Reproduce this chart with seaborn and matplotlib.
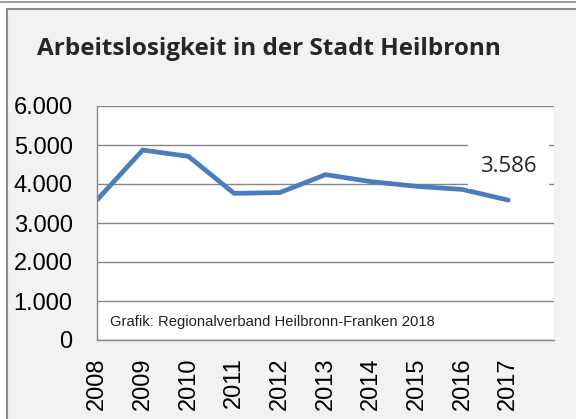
import pandas as pd
import matplotlib
matplotlib.use("Agg")
import matplotlib.pyplot as plt
import seaborn as sns
from matplotlib.patches import Rectangle
from matplotlib.ticker import FuncFormatter

# data
years = ["2008", "2009", "2010", "2011", "2012", "2013", "2014", "2015", "2016", "2017"]
arbeitslose = [3590, 4870, 4710, 3760, 3780, 4240, 4060, 3940, 3860, 3586]

df = pd.DataFrame({"pos": range(len(years)), "wert": arbeitslose})

sns.set_style("white")
plt.rcParams["font.family"] = ["Liberation Sans", "DejaVu Sans"]

fig = plt.figure(figsize=(5.76, 4.19), dpi=100)
fig.patch.set_facecolor("white")

# panel frame like the spreadsheet chart area
fig.patches.append(Rectangle((0, 1 - 3 / 419), 1, 2 / 419, transform=fig.transFigure,
                             facecolor="#a0a0a0", edgecolor="none", zorder=-10))
fig.patches.append(Rectangle((6.5 / 576, -0.05), 1.2, 1 - 9.5 / 419 + 0.05,
                             transform=fig.transFigure, facecolor="#f2f2f2",
                             edgecolor="#8c8c8c", linewidth=1.5, zorder=-10))

ax = fig.add_axes([97 / 576, 1 - 340 / 419, (554 - 97) / 576, (340 - 106) / 419])
ax.set_facecolor("white")

sns.lineplot(data=df, x="pos", y="wert", ax=ax, color="#4a7ebb", linewidth=3.4,
             solid_capstyle="round", solid_joinstyle="miter")

ax.set_xlim(0, len(years))
ax.set_ylim(0, 6000)
ax.set_yticks(range(0, 6001, 1000))
ax.yaxis.set_major_formatter(FuncFormatter(lambda v, p: f"{int(v):,}".replace(",", ".")))
ax.set_xticks(range(len(years) + 1))
ax.set_xticklabels(years + [""], rotation=90)
ax.grid(axis="y", color="#868686", linewidth=1)
ax.set_axisbelow(True)

for s in ["top", "right"]:
    ax.spines[s].set_visible(False)
for s in ["left", "bottom"]:
    ax.spines[s].set_color("#868686")
    ax.spines[s].set_linewidth(1)

ax.tick_params(axis="both", which="major", direction="out", length=5.5, width=1,
               color="#868686", labelsize=17, labelcolor="black")
ax.tick_params(axis="y", pad=12)
ax.tick_params(axis="x", pad=7)
ax.set_xlabel("")
ax.set_ylabel("")

# value label at the last point
ax.text(len(years) - 1, 4450, "3.586", ha="center", va="center", fontsize=16,
        family=["Open Sans", "DejaVu Sans"],
        bbox=dict(boxstyle="square,pad=0.55", facecolor="white", edgecolor="none"))

ax.text(0.28, 450, "Grafik: Regionalverband Heilbronn-Franken 2018", fontsize=10.6,
        ha="left", va="center", color="#222222")

fig.text(37 / 576, 1 - 49 / 419, "Arbeitslosigkeit in der Stadt Heilbronn",
         fontsize=17.5, fontweight="bold", family=["Open Sans", "DejaVu Sans"],
         ha="left", va="center")

fig.savefig("out.png", dpi=100)
